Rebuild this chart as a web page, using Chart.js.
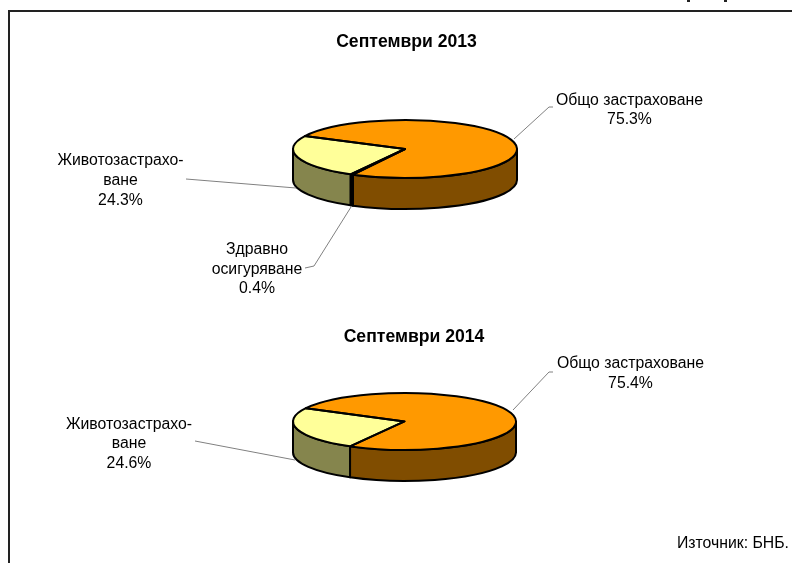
<!DOCTYPE html>
<html><head><meta charset="utf-8">
<style>
html,body{margin:0;padding:0;background:#fff;width:792px;height:563px;overflow:hidden}
canvas{position:absolute;left:0;top:0}
#frame{position:absolute;left:8px;top:10px;width:790px;height:560px;border-left:2px solid #222;border-top:2px solid #222}
.cut{position:absolute;top:0;width:3px;height:2px;background:#222}
</style>
<script src="https://cdn.jsdelivr.net/npm/chart.js@4"></script>
</head><body>
<div id="frame"></div>
<div class="cut" style="left:687px"></div>
<div class="cut" style="left:724px"></div>
<canvas id="c1" width="792" height="563"></canvas>
<canvas id="c2" width="792" height="563"></canvas>
<script>
const titles = ['Септември 2013', 'Септември 2014'];
const categories2013 = ['Общо застраховане', 'Здравно осигуряване', 'Животозастраховане'];
const values2013 = [75.3, 0.4, 24.3];
const categories2014 = ['Общо застраховане', 'Животозастраховане'];
const values2014 = [75.4, 24.6];
const topColors2013 = ['#FF9900', '#000000', '#FFFF99'];
const wallColors2013 = ['#804D00', '#000000', '#85854D'];
const topColors2014 = ['#FF9900', '#FFFF99'];
const wallColors2014 = ['#804D00', '#85854D'];
const source = 'Източник: БНБ.';
const FONT = '"Liberation Sans", Arial, sans-serif';

const labels2013 = [
  {lines:['Общо застраховане','75.3%'], x:629.5, y:[100.5,119.5], leader:[[514,139],[549,107],[553,107]]},
  {lines:['Животозастрахо-','ване','24.3%'], x:120.5, y:[160.5,180.5,200.5], leader:[[186,179],[296,188]]},
  {lines:['Здравно','осигуряване','0.4%'], x:257, y:[249.5,269.5,288.5], leader:[[351,207],[314,266],[305,268]]}
];
const labels2014 = [
  {lines:['Общо застраховане','75.4%'], x:630.5, y:[363.5,383.5], leader:[[513,410],[549,372],[553,372]]},
  {lines:['Животозастрахо-','ване','24.6%'], x:129, y:[424.5,443.5,463.5], leader:[[195,441],[295,460]]}
];

const pie3d = {
  id:'pie3d',
  afterLayout(chart){
    const o = chart.options.plugins.pie3d;
    chart.titleBlock.left += o.titleShift * 2;
  },
  beforeDatasetsDraw(chart){
    const o = chart.options.plugins.pie3d, c = chart.ctx;
    const arcs = chart.getDatasetMeta(0).data;
    const a0 = arcs[0], rx = a0.outerRadius, ry = rx * o.squash, cx = a0.x, cy = a0.y;
    c.save();
    arcs.forEach((arc,i)=>{
      let s = arc.startAngle, e = arc.endAngle;
      const T = Math.PI*2;
      while (s < 0) { s += T; e += T; }
      [[s,e],[s-T,e-T]].forEach(([p,q])=>{
        const from = Math.max(p,0), to = Math.min(q,Math.PI);
        if (to <= from) return;
        c.beginPath();
        c.ellipse(cx,cy,rx,ry,0,from,to);
        c.ellipse(cx,cy+o.depth,rx,ry,0,to,from,true);
        c.closePath();
        c.fillStyle = o.wallColors[i];
        c.fill();
        c.lineWidth = 2; c.strokeStyle = '#000'; c.lineJoin='round';
        c.stroke();
      });
    });
    c.restore();
    c.save();
    c.translate(cx,cy); c.scale(1,o.squash); c.translate(-cx,-cy);
  },
  afterDatasetsDraw(chart){
    const o = chart.options.plugins.pie3d, c = chart.ctx;
    c.restore();
    const arcs = chart.getDatasetMeta(0).data;
    c.save();
    c.lineWidth = 2; c.strokeStyle = '#000'; c.lineJoin='round';
    arcs.forEach(arc=>{
      const rx = arc.outerRadius, ry = rx*o.squash;
      c.beginPath();
      c.moveTo(arc.x,arc.y);
      c.ellipse(arc.x,arc.y,rx,ry,0,arc.startAngle,arc.endAngle);
      c.closePath();
      c.stroke();
    });
    c.restore();
    c.save();
    c.font = '15.8px '+FONT; c.fillStyle='#000'; c.textAlign='center'; c.textBaseline='middle';
    o.labels.forEach(l=>{
      c.beginPath();
      l.leader.forEach((p,i)=> i?c.lineTo(p[0],p[1]):c.moveTo(p[0],p[1]));
      c.strokeStyle='#808080'; c.lineWidth=1; c.stroke();
      l.lines.forEach((t,i)=>c.fillText(t,l.x,l.y[i]));
    });
    if (o.source){ c.textAlign='right'; c.fillText(o.source,789,543.5); }
    c.restore();
  }
};

function makePie(id,title,cats,vals,colors,walls,labels,rot,pad,radius,squash,shift,src){
  return new Chart(document.getElementById(id),{
    type:'pie',
    data:{labels:cats,datasets:[{data:vals,backgroundColor:colors,borderWidth:0,clip:false}]},
    options:{
      responsive:false,animation:false,rotation:rot,radius:radius,
      layout:{padding:pad},
      events:[],
      plugins:{
        legend:{display:false},tooltip:{enabled:false},
        title:{display:true,text:title,color:'#000',padding:0,font:{family:FONT,size:17.6,weight:'bold',lineHeight:1.2}},
        pie3d:{squash:squash,depth:31,wallColors:walls,labels:labels,titleShift:shift,source:src}
      }
    },
    plugins:[pie3d]
  });
}
makePie('c1',titles[0],categories2013,values2013,topColors2013,wallColors2013,labels2013,296.6,
  {left:18,right:0,top:31.4,bottom:317.5},112,29/112,1.5,null);
makePie('c2',titles[1],categories2014,values2014,topColors2014,wallColors2014,labels2014,297.8,
  {left:17,right:0,top:326.4,bottom:67.6},111.5,28.5/111.5,9.5,source);
</script>
</body></html>
